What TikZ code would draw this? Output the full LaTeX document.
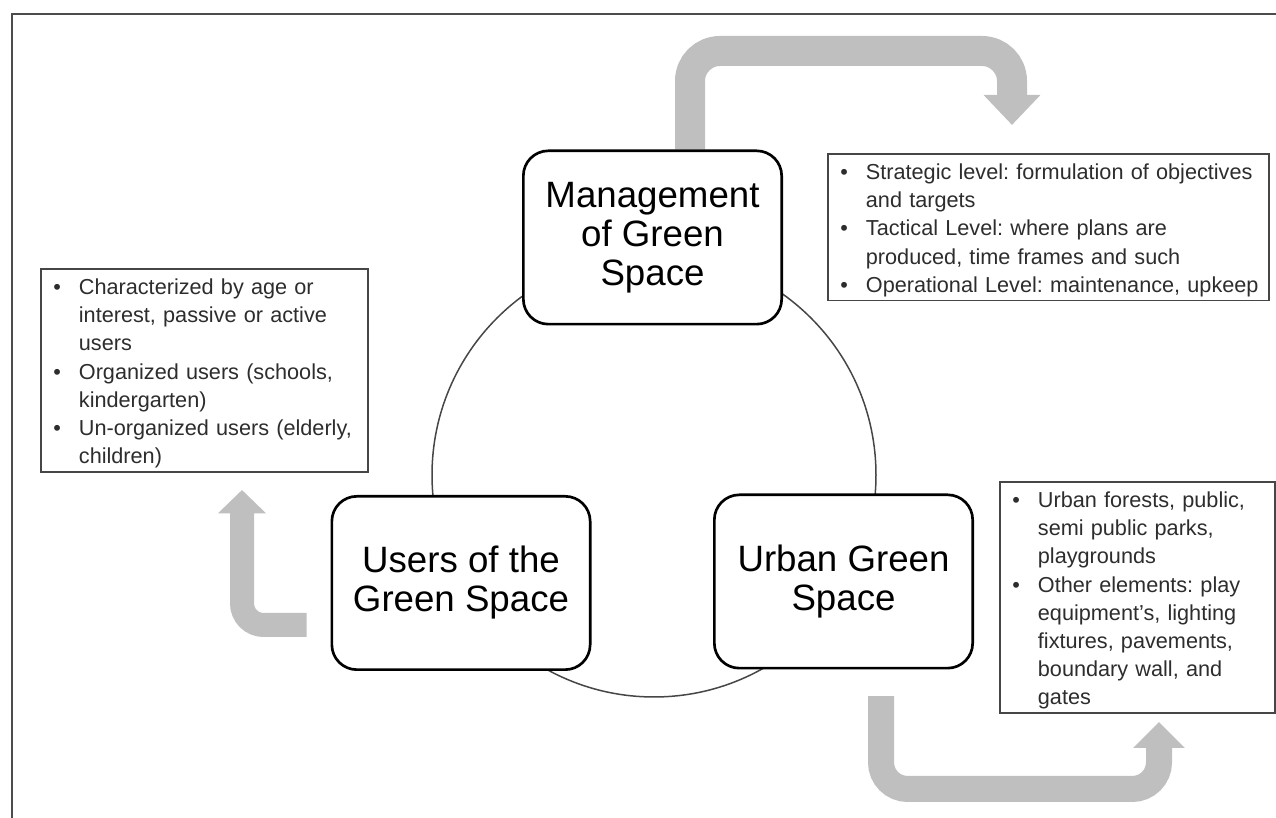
\documentclass[tikz,border=0pt]{standalone}
\usepackage{fontspec}
\setmainfont{Liberation Sans}
\usetikzlibrary{arrows.meta,positioning,backgrounds}

\definecolor{arrowgray}{RGB}{191,191,191}
\definecolor{boxline}{RGB}{70,70,70}
\definecolor{listtext}{RGB}{45,45,45}

\setlength{\parindent}{0pt}
\frenchspacing
\hyphenpenalty=10000
% one bullet of a list box, \brk breaks its line
\newcommand{\bul}[1]{\hangindent=18.8pt\relax\hangafter=1\relax
  \makebox[18.8pt][l]{\rule{0pt}{13.1pt}\hspace{3.5pt}\textbullet}#1\par}
\newcommand{\brk}{\hfil\break}

\begin{document}
\begin{tikzpicture}[x=0.6pt,y=0.6pt,
    mainbox/.style={draw=black,line width=1.6pt,rounded corners=15pt,fill=white,
      minimum width=155pt,minimum height=104pt,align=center,
      font=\fontsize{22}{23.4}\selectfont},
    listbox/.style={draw=boxline,line width=1.1pt,fill=white,anchor=north west,
      inner xsep=4pt,inner ysep=2.3pt,align=left,text=listtext,
      font=\fontsize{13}{16.9}\selectfont},
    bigarrow/.style={draw=arrowgray,line width=#1}]
  \useasboundingbox (0,0) rectangle (1276,818);
  \draw[black!70,line width=1.2pt] (12,0) -- (12,804) -- (1276,804);

  % the three parts
  \node[mainbox] (mgmt) at (652.5,580.5) {Management\\of Green\\Space};
  \node[mainbox] (users) at (461,235) {Users of the\\Green Space};
  \node[mainbox] (urban) at (843.5,236.5) {Urban Green\\Space};

  % what each part holds
  \node[listbox,text width=256.6pt] (mgmtlist) at (827,665) {%
    \bul{Strategic level: formulation of objectives\brk and targets}
    \bul{Tactical Level: where plans are\brk produced, time frames and such}
    \bul{Operational Level: maintenance, upkeep}};
  \node[listbox,text width=188.2pt] (userlist) at (40,550) {%
    \bul{Characterized by age or\brk interest, passive or active\brk users}
    \bul{Organized users (schools,\brk kindergarten)}
    \bul{Un-organized users (elderly,\brk children)}};
  \node[listbox,text width=157pt] (urbanlist) at (999,337) {%
    \bul{Urban forests, public,\brk semi public parks,\brk playgrounds}
    \bul{Other elements: play\brk equipment's, lighting\brk fixtures, pavements,\brk
      boundary wall, and\brk gates}};

  \coordinate (mgmttip) at (1012,693);
  \coordinate (usertail) at ([xshift=-14.3pt,yshift=-25.2pt]users.west);
  \coordinate (usertip) at (242,328);
  \coordinate (urbantail) at ([xshift=22.5pt,yshift=-16pt]urban.south);
  \coordinate (urbantip) at (1159,96);

  \begin{scope}[on background layer]
    \draw[boxline,line width=0.9pt] (654,343) circle[radius=133.2pt];
    \draw[bigarrow=18pt,-{Triangle[width=33pt,length=18pt]},rounded corners=18pt]
      ([xshift=22.5pt]mgmt.north) |- (1012,767) -- (mgmttip);
    \draw[bigarrow=14.4pt,-{Triangle[width=28pt,length=14pt]},rounded corners=13pt]
      (usertail) -| (usertip);
    \draw[bigarrow=15.6pt,-{Triangle[width=30pt,length=15.6pt]},rounded corners=16pt]
      (urbantail) |- (1159,29) -- (urbantip);
  \end{scope}
\end{tikzpicture}
\end{document}
